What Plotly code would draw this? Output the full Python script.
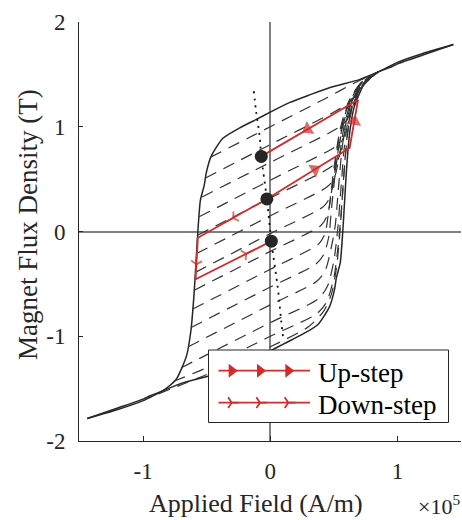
import plotly.graph_objects as go

# ---------------- data (H in 1e5 A/m, B in T) ----------------
# descending branch of the major hysteresis loop
major_x = [-1.44, -1.2, -1.0, -0.95, -0.845, -0.74, -0.66, -0.625, -0.6, -0.585, -0.57,
           -0.55, -0.52, -0.504, -0.465, -0.373, -0.24, -0.11, 0.0, 0.15, 0.3, 0.47,
           0.7, 0.86, 1.0, 1.2, 1.44]
major_b = [-1.785, -1.685, -1.60, -1.57, -1.52, -1.41, -1.19, -0.95, -0.6, -0.3, 0.0,
           0.3, 0.44, 0.56, 0.72, 0.89, 0.99, 1.07, 1.14, 1.23, 1.30, 1.375,
           1.45, 1.53, 1.615, 1.70, 1.785]

# ascending recoil (reversal) curves
forc_x = [
    [-0.47, 0.0, 0.45, 0.65, 0.845],
    [-0.51, 0.0, 0.5, 0.62, 0.70, 0.77, 0.845],
    [-0.537, 0.0, 0.52, 0.6, 0.66, 0.73, 0.845],
    [-0.56, 0.0, 0.5, 0.56, 0.61, 0.655, 0.72, 0.845],
    [-0.572, 0.0, 0.47, 0.53, 0.57, 0.605, 0.65, 0.72, 0.845],
    [-0.58, 0.0, 0.44, 0.5, 0.54, 0.58, 0.63, 0.71, 0.845],
    [-0.59, 0.0, 0.42, 0.47, 0.51, 0.555, 0.61, 0.70, 0.845],
    [-0.598, 0.0, 0.40, 0.45, 0.49, 0.535, 0.60, 0.69, 0.845],
    [-0.61, 0.0, 0.38, 0.43, 0.46, 0.50, 0.55, 0.62, 0.72, 0.845],
    [-0.623, 0.0, 0.36, 0.42, 0.46, 0.48, 0.52, 0.57, 0.63, 0.73, 0.845],
    [-0.646, 0.0, 0.36, 0.43, 0.48, 0.51, 0.535, 0.565, 0.60, 0.65, 0.74, 0.845],
    [-0.70, 0.0, 0.38, 0.45, 0.50, 0.53, 0.555, 0.58, 0.61, 0.655, 0.74, 0.845],
    [-0.76, -0.5, 0.0, 0.36, 0.44, 0.50, 0.535, 0.56, 0.58, 0.605, 0.64, 0.72, 0.845],
    [-0.88, -0.5, 0.0, 0.3, 0.42, 0.48, 0.52, 0.545, 0.565, 0.585, 0.61, 0.645, 0.73, 0.845],
]
forc_b = [
    [0.71, 1.0, 1.28, 1.41, 1.52],
    [0.51, 0.83, 1.14, 1.23, 1.35, 1.45, 1.52],
    [0.33, 0.66, 0.98, 1.06, 1.22, 1.39, 1.52],
    [0.14, 0.49, 0.80, 0.86, 1.02, 1.22, 1.39, 1.52],
    [-0.035, 0.32, 0.61, 0.68, 0.85, 1.08, 1.26, 1.40, 1.52],
    [-0.21, 0.15, 0.42, 0.50, 0.70, 1.00, 1.22, 1.39, 1.52],
    [-0.39, -0.02, 0.24, 0.33, 0.58, 0.93, 1.20, 1.39, 1.52],
    [-0.56, -0.19, 0.06, 0.16, 0.45, 0.85, 1.17, 1.38, 1.52],
    [-0.74, -0.36, -0.12, -0.02, 0.20, 0.60, 0.98, 1.25, 1.43, 1.52],
    [-0.916, -0.53, -0.31, -0.22, -0.05, 0.20, 0.65, 1.00, 1.25, 1.44, 1.52],
    [-1.10, -0.70, -0.48, -0.38, -0.15, 0.05, 0.40, 0.80, 1.07, 1.27, 1.45, 1.52],
    [-1.30, -0.87, -0.64, -0.52, -0.28, 0.02, 0.40, 0.78, 1.05, 1.25, 1.44, 1.52],
    [-1.43, -1.30, -1.00, -0.79, -0.68, -0.44, -0.12, 0.22, 0.56, 0.90, 1.17, 1.40, 1.52],
    [-1.55, -1.365, -1.10, -0.91, -0.76, -0.60, -0.35, -0.05, 0.30, 0.65, 0.97, 1.19, 1.41, 1.52],
]

# dotted locus of the remanent states
dot_x = [-0.13, -0.11, -0.084, -0.071, -0.027, 0.008, 0.06, 0.087, 0.105]
dot_b = [1.34, 1.13, 0.91, 0.717, 0.311, -0.092, -0.55, -0.87, -1.05]

# remanent states
state_x = [-0.071, -0.027, 0.008]
state_b = [0.717, 0.311, -0.092]

# up-step and down-step paths
up_x = [-0.027, 0.624, 0.69, -0.071]
up_b = [0.311, 0.797, 1.257, 0.717]
down_x = [-0.027, -0.57, -0.588, 0.008]
down_b = [0.311, -0.06, -0.457, -0.092]
up_frac = [0.58, 0.55, 0.52]
down_frac = [0.49, 0.64, 0.67]

x_ticks = [-1, 0, 1]
x_ticklabels = ['-1', '0', '1']
y_ticks = [-2, -1, 0, 1, 2]
y_ticklabels = ['-2', '-1', '0', '1', '2']

# ---------------- styling ----------------
FONT = 'Liberation Serif'
DARK = '#262626'
RED = '#d22b2b'
W, H = 462, 520
ML, MR, MT, MB = 79, 1, 22, 79

fig = go.Figure()

# major loop: descending branch and (point-symmetric) ascending branch
fig.add_trace(go.Scatter(x=major_x, y=major_b, mode='lines',
                         line=dict(color=DARK, width=1.5, shape='spline', smoothing=0.6),
                         hoverinfo='skip', showlegend=False))
fig.add_trace(go.Scatter(x=[-v for v in major_x], y=[-v for v in major_b], mode='lines',
                         line=dict(color=DARK, width=1.5, shape='spline', smoothing=0.6),
                         hoverinfo='skip', showlegend=False))

# reversal curves
for fxs, fbs in zip(forc_x, forc_b):
    fig.add_trace(go.Scatter(x=fxs, y=fbs, mode='lines',
                             line=dict(color='#333333', width=1.2, dash='12px,8px',
                                       shape='spline', smoothing=0.7),
                             hoverinfo='skip', showlegend=False))

# dotted locus
fig.add_trace(go.Scatter(x=dot_x, y=dot_b, mode='lines',
                         line=dict(color='#111111', width=1.8, dash='2px,5px', shape='spline'),
                         hoverinfo='skip', showlegend=False))


def arrow_points(xs, bs, fracs):
    ax, ab = [], []
    for i, f in enumerate(fracs):
        x0, x1 = xs[i], xs[i + 1]
        b0, b1 = bs[i], bs[i + 1]
        ax += [x0 + (f - 0.04) * (x1 - x0), x0 + f * (x1 - x0)]
        ab += [b0 + (f - 0.04) * (b1 - b0), b0 + f * (b1 - b0)]
    return ax, ab


# red paths
for px, pb in ((up_x, up_b), (down_x, down_b)):
    fig.add_trace(go.Scatter(x=px, y=pb, mode='lines', line=dict(color=RED, width=1.8),
                             hoverinfo='skip', showlegend=False))

ax, ab = arrow_points(up_x, up_b, up_frac)
fig.add_trace(go.Scatter(x=ax, y=ab, mode='markers',
                         marker=dict(symbol='triangle-up', size=[0, 13] * 3, color=RED,
                                     angleref='previous', line=dict(width=0)),
                         hoverinfo='skip', showlegend=False))
ax, ab = arrow_points(down_x, down_b, down_frac)
fig.add_trace(go.Scatter(x=ax, y=ab, mode='markers',
                         marker=dict(symbol='y-up', size=[0, 9] * 3, color=RED,
                                     angleref='previous', line=dict(width=1.8, color=RED)),
                         hoverinfo='skip', showlegend=False))

# remanent state dots
fig.add_trace(go.Scatter(x=state_x, y=state_b, mode='markers',
                         marker=dict(size=13, color='#262626'),
                         hoverinfo='skip', showlegend=False))

# ---------------- custom legend on an overlay (plot-area fractions) ----------------
def fx(px):
    return (px - ML) / (W - ML - MR)


def fy(py):
    return (H - MB - py) / (H - MT - MB)


bx0, bx1, by0, by1 = fx(208.5), fx(448.5), fy(422.5), fy(350)
fig.add_trace(go.Scatter(x=[bx0, bx1, bx1, bx0, bx0], y=[by0, by0, by1, by1, by0],
                         mode='lines', fill='toself', fillcolor='white',
                         line=dict(color=DARK, width=1), xaxis='x2', yaxis='y2',
                         hoverinfo='skip', showlegend=False))
leg_rows = [('Up-step', 370.7, 'triangle-up', 12), ('Down-step', 402.7, 'y-up', 9)]
for name, py, sym, sz in leg_rows:
    fig.add_trace(go.Scatter(x=[fx(218.5), fx(310)], y=[fy(py), fy(py)], mode='lines',
                             line=dict(color=RED, width=1.8), xaxis='x2', yaxis='y2',
                             hoverinfo='skip', showlegend=False))
    fig.add_trace(go.Scatter(x=[fx(231.7), fx(260), fx(288.3)], y=[fy(py)] * 3, mode='markers',
                             marker=dict(symbol=sym, size=sz, color=RED, angle=90,
                                         line=dict(width=1.8 if sym == 'y-up' else 0, color=RED)),
                             xaxis='x2', yaxis='y2', hoverinfo='skip', showlegend=False))
    fig.add_annotation(text=name, x=fx(316), y=fy(py + 2), xref='paper', yref='paper',
                       xanchor='left', yanchor='middle', showarrow=False,
                       font=dict(family=FONT, size=27, color='black'))

# axis titles
fig.add_annotation(text='Applied Field (A/m)', x=fx(256), y=fy(503), xref='paper', yref='paper',
                   xanchor='center', yanchor='middle', showarrow=False,
                   font=dict(family=FONT, size=26, color=DARK))
fig.add_annotation(text='×10<sup>5</sup>', x=fx(416), y=fy(505), xref='paper', yref='paper',
                   xanchor='left', yanchor='middle', showarrow=False,
                   font=dict(family=FONT, size=22, color=DARK))
fig.add_annotation(text='Magnet Flux Density (T)', x=fx(28), y=fy(225), xref='paper', yref='paper',
                   xanchor='center', yanchor='middle', showarrow=False, textangle=-90,
                   font=dict(family=FONT, size=27, color=DARK))

fig.update_layout(
    width=W, height=H, autosize=False,
    margin=dict(l=ML, r=MR, t=MT, b=MB, pad=0),
    paper_bgcolor='white', plot_bgcolor='white',
    font=dict(family=FONT, color=DARK),
    xaxis=dict(range=[-1.505, 1.5], showgrid=False, zeroline=True, zerolinecolor='#808080',
               zerolinewidth=1.5, showline=True, linecolor=DARK, linewidth=1,
               ticks='inside', ticklen=5, tickcolor=DARK, tickvals=x_ticks,
               ticktext=x_ticklabels, tickfont=dict(family=FONT, size=23, color=DARK),
               ticklabelstandoff=9),
    yaxis=dict(range=[-2, 2], showgrid=False, zeroline=True, zerolinecolor='#808080',
               zerolinewidth=1.5, showline=True, linecolor=DARK, linewidth=1,
               ticks='inside', ticklen=4, tickcolor=DARK, tickvals=y_ticks,
               ticktext=y_ticklabels, tickfont=dict(family=FONT, size=23, color=DARK),
               ticklabelstandoff=8),
    xaxis2=dict(range=[0, 1], overlaying='x', visible=False, fixedrange=True),
    yaxis2=dict(range=[0, 1], overlaying='y', visible=False, fixedrange=True),
)

fig.write_html('out.html', config={'displayModeBar': False},
               post_script="document.body.style.margin='0';")
